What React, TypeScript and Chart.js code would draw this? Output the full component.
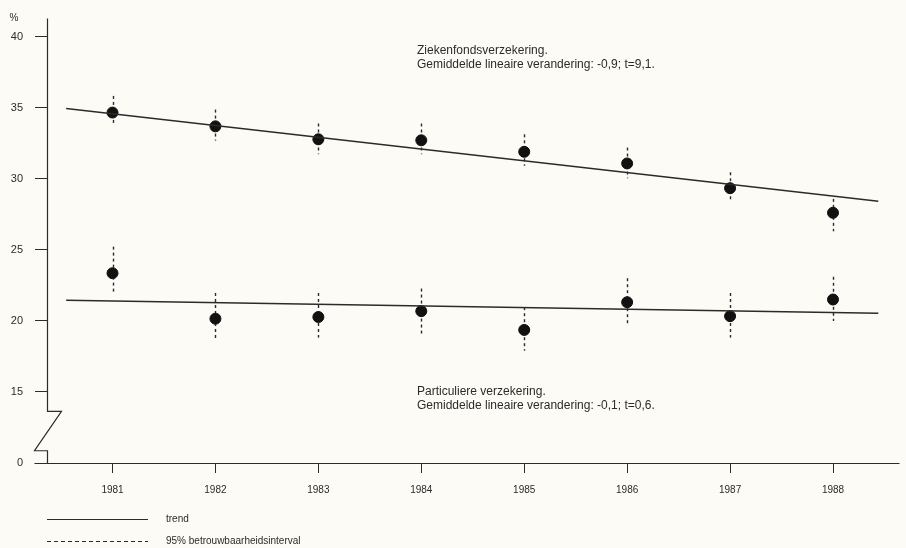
import React, { useEffect, useRef } from "react";
import { Chart, registerables } from "chart.js";

Chart.register(...registerables);

// ---- data ----
const years = [1981, 1982, 1983, 1984, 1985, 1986, 1987, 1988];

const ziekenfondsValues = [34.65, 33.68, 32.77, 32.7, 31.89, 31.07, 29.33, 27.6];
const ziekenfondsLower = [33.72, 32.68, 31.72, 31.72, 30.91, 30.03, 28.35, 26.3];
const ziekenfondsUpper = [35.82, 34.86, 33.88, 33.88, 33.12, 32.19, 30.45, 28.58];

const particuliereValues = [23.35, 20.15, 20.27, 20.68, 19.36, 21.31, 20.33, 21.5];
const particuliereLower = [21.96, 18.59, 18.82, 19.06, 17.9, 19.75, 18.82, 19.99];
const particuliereUpper = [25.22, 21.96, 21.96, 22.27, 20.96, 23.0, 21.96, 23.1];

const trendX = [1980.55, 1988.44];
const ziekenfondsTrend = [34.93, 28.42];
const particuliereTrend = [21.45, 20.54];

// y axis has a break: the "0" tick sits where 10 would be
const yTickValues = [10, 15, 20, 25, 30, 35, 40];
const yTickLabels = ["0", "15", "20", "25", "30", "35", "40"];

const topNote = ["Ziekenfondsverzekering.", "Gemiddelde lineaire verandering: -0,9; t=9,1."];
const bottomNote = ["Particuliere verzekering.", "Gemiddelde lineaire verandering: -0,1; t=0,6."];
const legendLabels = ["trend", "95% betrouwbaarheidsinterval"];

const INK = "#2b2b2b";
const BG = "#fcfbf6";
const FONT = '"Liberation Sans", Arial, sans-serif';

const decorPlugin = {
  id: "decor",
  beforeDraw(chart: any) {
    const { ctx, width, height } = chart;
    ctx.save();
    ctx.fillStyle = BG;
    ctx.fillRect(0, 0, width, height);
    ctx.restore();
  },
  beforeDatasetsDraw(chart: any) {
    const { ctx } = chart;
    const x = chart.scales.x;
    const y = chart.scales.y;
    ctx.save();
    ctx.strokeStyle = INK;
    ctx.lineWidth = 1.4;
    ctx.setLineDash([3, 3]);
    const bars = (lo: number[], hi: number[]) => {
      years.forEach((yr, i) => {
        const px = Math.round(x.getPixelForValue(yr)) + 0.5;
        ctx.beginPath();
        ctx.moveTo(px, y.getPixelForValue(hi[i]));
        ctx.lineTo(px, y.getPixelForValue(lo[i]));
        ctx.stroke();
      });
    };
    bars(ziekenfondsLower, ziekenfondsUpper);
    bars(particuliereLower, particuliereUpper);
    ctx.restore();
  },
  afterDraw(chart: any) {
    const { ctx, chartArea } = chart;
    const y = chart.scales.y;
    const left = chartArea.left + 0.5;
    const bottom = chartArea.bottom + 0.5;
    ctx.save();
    ctx.strokeStyle = INK;
    ctx.lineWidth = 1.2;
    ctx.setLineDash([]);
    // y axis with break
    const yBreakTop = y.getPixelForValue(13.63);
    const yBreakBottom = y.getPixelForValue(10.86);
    ctx.beginPath();
    ctx.moveTo(left, chartArea.top);
    ctx.lineTo(left, yBreakTop);
    ctx.lineTo(left + 14, yBreakTop);
    ctx.lineTo(left - 13, yBreakBottom);
    ctx.lineTo(left, yBreakBottom);
    ctx.lineTo(left, bottom);
    ctx.stroke();
    // x axis
    ctx.beginPath();
    ctx.moveTo(left - 13, bottom);
    ctx.lineTo(chartArea.right, bottom);
    ctx.stroke();

    // % unit
    ctx.fillStyle = INK;
    ctx.font = `10px ${FONT}`;
    ctx.textAlign = "center";
    ctx.textBaseline = "middle";
    ctx.fillText("%", 14, 18);

    // notes
    ctx.textAlign = "left";
    ctx.font = `12px ${FONT}`;
    ctx.fillText(topNote[0], 417, 51);
    ctx.fillText(topNote[1], 417, 65);
    ctx.fillText(bottomNote[0], 417, 392);
    ctx.fillText(bottomNote[1], 417, 406);

    // legend
    ctx.beginPath();
    ctx.moveTo(47, 519.5);
    ctx.lineTo(148, 519.5);
    ctx.stroke();
    ctx.setLineDash([4, 3]);
    ctx.lineWidth = 1;
    ctx.beginPath();
    ctx.moveTo(47, 541.5);
    ctx.lineTo(148, 541.5);
    ctx.stroke();
    ctx.font = `10px ${FONT}`;
    ctx.fillText(legendLabels[0], 166, 519);
    ctx.fillText(legendLabels[1], 166, 541);
    ctx.restore();
  },
};

export default function App() {
  const ref = useRef<HTMLCanvasElement | null>(null);

  useEffect(() => {
    document.body.style.margin = "0";
    document.body.style.background = BG;
    const canvas = ref.current;
    if (!canvas) return;
    const chart = new Chart(canvas, {
      type: "scatter",
      data: {
        datasets: [
          {
            label: "Ziekenfonds trend",
            data: trendX.map((v, i) => ({ x: v, y: ziekenfondsTrend[i] })),
            showLine: true,
            borderColor: INK,
            borderWidth: 1.5,
            pointRadius: 0,
          },
          {
            label: "Particulier trend",
            data: trendX.map((v, i) => ({ x: v, y: particuliereTrend[i] })),
            showLine: true,
            borderColor: INK,
            borderWidth: 1.5,
            pointRadius: 0,
          },
          {
            label: "Ziekenfondsverzekering",
            data: years.map((v, i) => ({ x: v, y: ziekenfondsValues[i] })),
            pointRadius: 5.5,
            pointBackgroundColor: "#111",
            pointBorderColor: "#111",
            showLine: false,
          },
          {
            label: "Particuliere verzekering",
            data: years.map((v, i) => ({ x: v, y: particuliereValues[i] })),
            pointRadius: 5.5,
            pointBackgroundColor: "#111",
            pointBorderColor: "#111",
            showLine: false,
          },
        ],
      },
      options: {
        animation: false,
        responsive: false,
        devicePixelRatio: 1,
        layout: { padding: { top: 15, left: 0, right: 0, bottom: 0 } },
        plugins: {
          legend: { display: false },
          tooltip: { enabled: false },
          title: { display: false },
        },
        scales: {
          x: {
            type: "linear",
            min: 1980.3636,
            max: 1988.646,
            afterBuildTicks: (s: any) => {
              s.ticks = years.map((v) => ({ value: v }));
            },
            afterFit: (s: any) => {
              s.height = 85;
            },
            border: { display: false },
            grid: {
              drawOnChartArea: false,
              drawTicks: true,
              tickLength: 10,
              color: INK,
              lineWidth: 1,
            },
            ticks: {
              autoSkip: false,
              maxRotation: 0,
              padding: 11,
              color: INK,
              font: { family: FONT, size: 10 },
              callback: (v: any) => String(v),
            },
          },
          y: {
            type: "linear",
            min: 10,
            max: 41.26,
            afterBuildTicks: (s: any) => {
              s.ticks = yTickValues.map((v) => ({ value: v }));
            },
            afterFit: (s: any) => {
              s.width = 47;
            },
            border: { display: false },
            grid: {
              drawOnChartArea: false,
              drawTicks: true,
              tickLength: 12,
              color: INK,
              lineWidth: 1,
            },
            ticks: {
              padding: 12,
              color: INK,
              font: { family: FONT, size: 11 },
              callback: (v: any) => {
                const i = yTickValues.indexOf(Number(v));
                return i >= 0 ? yTickLabels[i] : "";
              },
            },
          },
        },
      } as any,
      plugins: [decorPlugin],
    });
    return () => chart.destroy();
  }, []);

  return <canvas ref={ref} width={906} height={548} style={{ display: "block", width: 906, height: 548 }} />;
}
